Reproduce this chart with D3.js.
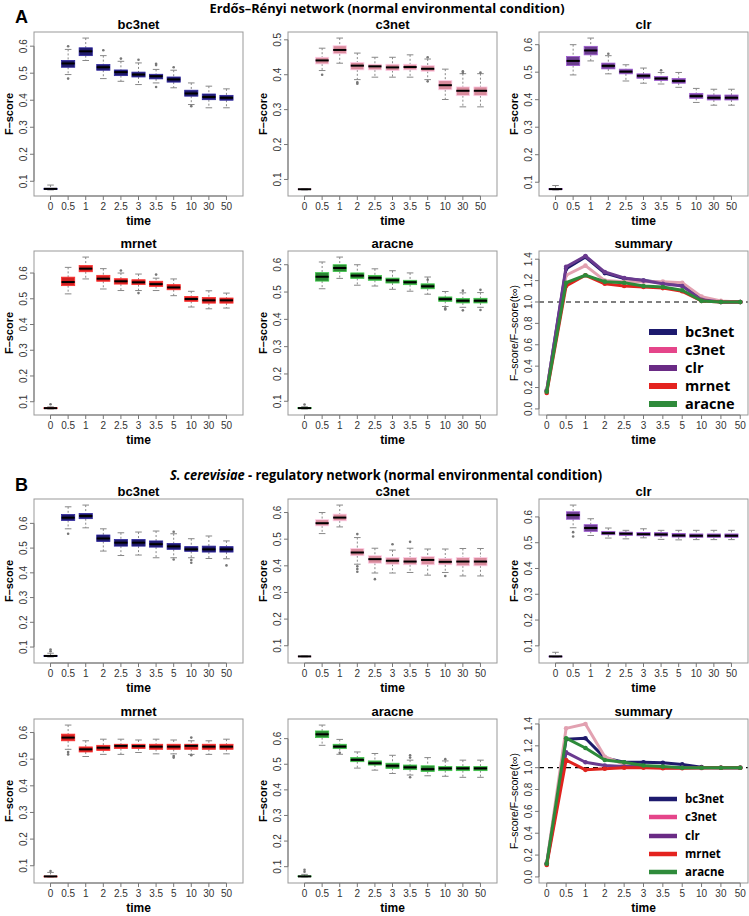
<!DOCTYPE html>
<html><head><meta charset="utf-8">
<script src="https://cdn.jsdelivr.net/npm/d3@7"></script>
<style>body{margin:0;background:#fff} svg text{font-family:"Liberation Sans",Arial,Helvetica,sans-serif}</style>
</head><body><svg id="c" width="749" height="916"></svg>
<script>
const times = ["0","0.5","1","2","2.5","3","3.5","5","10","30","50"];
const methods = ["bc3net","c3net","clr","mrnet","aracne"];
const boxFill = ["#1f1a6b","#d98b9c","#6b3d8e","#d42020","#2a8632"];
const lineColor = ["#1f1a6b","#e2a1b1","#6a3a8f","#e0231e","#2d8a3a"];
const legendColor = ["#1d1a6e","#e5458a","#6a2b85","#e4231f","#2f8b3b"];
const yTicksBox = [0.1,0.2,0.3,0.4,0.5,0.6];
const yTicksSummary = [0,0.2,0.4,0.6,0.8,1.0,1.2,1.4];

// A: Erdős–Rényi network — box statistics per time point
const erBc3net = {
  lo:  [0.068,0.495,0.547,0.480,0.470,0.458,0.464,0.446,0.384,0.372,0.372],
  q1:  [0.070,0.522,0.565,0.511,0.491,0.486,0.479,0.467,0.415,0.402,0.400],
  med: [0.072,0.536,0.581,0.522,0.504,0.495,0.489,0.477,0.425,0.412,0.409],
  q3:  [0.074,0.547,0.594,0.532,0.512,0.504,0.496,0.486,0.437,0.423,0.418],
  hi:  [0.086,0.588,0.630,0.565,0.544,0.538,0.514,0.511,0.464,0.452,0.442],
  out: [[1,0.600],[1,0.480],[3,0.585],[4,0.554],[5,0.550],[6,0.535],[6,0.530],[6,0.449],[7,0.522],[8,0.378]]
};
const erC3net = {
  lo:  [0.070,0.412,0.433,0.386,0.393,0.393,0.393,0.386,0.329,0.308,0.308],
  q1:  [0.071,0.431,0.460,0.414,0.414,0.412,0.414,0.410,0.357,0.340,0.340],
  med: [0.072,0.441,0.471,0.426,0.424,0.421,0.422,0.417,0.370,0.354,0.354],
  q3:  [0.073,0.450,0.483,0.435,0.430,0.430,0.430,0.426,0.383,0.365,0.365],
  hi:  [0.074,0.476,0.505,0.462,0.450,0.450,0.457,0.445,0.416,0.403,0.403],
  out: [[1,0.400],[3,0.378],[3,0.374],[7,0.450],[7,0.381],[9,0.410],[9,0.405],[10,0.406]]
};
const erClr = {
  lo:  [0.072,0.490,0.541,0.494,0.468,0.460,0.457,0.445,0.390,0.380,0.380],
  q1:  [0.073,0.524,0.563,0.512,0.494,0.478,0.470,0.460,0.405,0.399,0.399],
  med: [0.075,0.541,0.579,0.523,0.502,0.487,0.477,0.468,0.413,0.407,0.407],
  q3:  [0.077,0.557,0.594,0.533,0.511,0.494,0.484,0.477,0.423,0.417,0.417],
  hi:  [0.088,0.600,0.624,0.560,0.527,0.515,0.499,0.499,0.441,0.438,0.438],
  out: [[3,0.567],[6,0.507]]
};
const erMrnet = {
  lo:  [0.072,0.519,0.577,0.538,0.532,0.532,0.532,0.512,0.468,0.461,0.464],
  q1:  [0.073,0.551,0.605,0.568,0.557,0.555,0.548,0.535,0.490,0.483,0.483],
  med: [0.075,0.565,0.617,0.578,0.568,0.564,0.557,0.544,0.499,0.494,0.494],
  q3:  [0.077,0.584,0.629,0.591,0.578,0.574,0.568,0.555,0.509,0.505,0.503],
  hi:  [0.080,0.622,0.662,0.617,0.600,0.596,0.580,0.577,0.529,0.531,0.522],
  out: [[0,0.090],[4,0.610],[5,0.522],[6,0.594]]
};
const erAracne = {
  lo:  [0.072,0.512,0.550,0.525,0.522,0.510,0.503,0.492,0.447,0.444,0.444],
  q1:  [0.073,0.540,0.575,0.550,0.543,0.533,0.527,0.512,0.466,0.460,0.460],
  med: [0.075,0.556,0.588,0.560,0.552,0.543,0.536,0.521,0.474,0.468,0.468],
  q3:  [0.077,0.571,0.600,0.570,0.561,0.551,0.543,0.530,0.482,0.476,0.477],
  hi:  [0.080,0.610,0.628,0.600,0.585,0.578,0.570,0.555,0.502,0.497,0.498],
  out: [[0,0.088],[7,0.545],[8,0.440],[8,0.436],[9,0.433],[9,0.505],[10,0.434],[10,0.508]]
};
// B: S. cerevisiae regulatory network
const scBc3net = {
  lo:  [0.060,0.578,0.582,0.488,0.470,0.472,0.461,0.461,0.461,0.458,0.457],
  q1:  [0.062,0.612,0.619,0.527,0.508,0.508,0.504,0.495,0.487,0.484,0.484],
  med: [0.064,0.623,0.630,0.539,0.522,0.522,0.516,0.507,0.495,0.495,0.495],
  q3:  [0.066,0.636,0.640,0.553,0.535,0.535,0.529,0.519,0.506,0.508,0.506],
  hi:  [0.075,0.667,0.674,0.578,0.562,0.565,0.569,0.558,0.538,0.549,0.529],
  out: [[0,0.083],[0,0.090],[1,0.558],[7,0.566],[7,0.454],[8,0.452],[8,0.441],[10,0.430]]
};
const scC3net = {
  lo:  [0.058,0.521,0.546,0.406,0.373,0.373,0.375,0.365,0.375,0.362,0.362],
  q1:  [0.059,0.550,0.569,0.438,0.410,0.406,0.404,0.404,0.404,0.400,0.400],
  med: [0.060,0.560,0.581,0.450,0.425,0.419,0.416,0.422,0.415,0.416,0.416],
  q3:  [0.061,0.573,0.594,0.465,0.438,0.431,0.431,0.435,0.428,0.431,0.431],
  hi:  [0.062,0.600,0.628,0.506,0.466,0.459,0.466,0.463,0.463,0.465,0.465],
  out: [[3,0.519],[3,0.398],[3,0.388],[3,0.378],[4,0.350],[5,0.481],[6,0.490],[8,0.362]]
};
const scClr = {
  lo:  [0.057,0.558,0.528,0.518,0.515,0.519,0.513,0.511,0.512,0.512,0.512],
  q1:  [0.058,0.591,0.544,0.531,0.528,0.527,0.526,0.522,0.521,0.521,0.521],
  med: [0.059,0.607,0.557,0.537,0.535,0.533,0.532,0.528,0.527,0.527,0.527],
  q3:  [0.060,0.620,0.570,0.544,0.541,0.540,0.539,0.536,0.534,0.534,0.534],
  hi:  [0.075,0.646,0.593,0.557,0.548,0.554,0.548,0.548,0.548,0.548,0.548],
  out: [[1,0.541],[1,0.524]]
};
const scMrnet = {
  lo:  [0.058,0.537,0.510,0.518,0.518,0.525,0.520,0.520,0.518,0.518,0.520],
  q1:  [0.059,0.569,0.527,0.533,0.540,0.540,0.537,0.537,0.537,0.537,0.537],
  med: [0.060,0.581,0.537,0.543,0.550,0.549,0.547,0.547,0.550,0.547,0.547],
  q3:  [0.061,0.594,0.546,0.552,0.556,0.556,0.556,0.556,0.556,0.556,0.556],
  hi:  [0.075,0.628,0.569,0.575,0.575,0.572,0.575,0.572,0.569,0.569,0.575],
  out: [[0,0.080],[1,0.527],[1,0.518],[7,0.512],[7,0.506],[8,0.581],[8,0.515]]
};
const scAracne = {
  lo:  [0.060,0.574,0.539,0.485,0.477,0.464,0.458,0.455,0.453,0.449,0.449],
  q1:  [0.061,0.604,0.561,0.510,0.497,0.484,0.479,0.472,0.475,0.475,0.475],
  med: [0.062,0.617,0.569,0.517,0.504,0.494,0.488,0.481,0.484,0.484,0.484],
  q3:  [0.064,0.630,0.578,0.526,0.513,0.504,0.497,0.494,0.491,0.491,0.491],
  hi:  [0.070,0.653,0.597,0.548,0.542,0.535,0.516,0.526,0.513,0.516,0.516],
  out: [[0,0.080],[0,0.088],[2,0.545],[6,0.535],[6,0.526],[6,0.449],[8,0.520]]
};

// Summary: F-score / F-score(t∞) of medians
const erSumBc3net = [0.17,1.31,1.42,1.27,1.22,1.20,1.18,1.16,1.03,1.00,1.00];
const erSumC3net  = [0.18,1.25,1.34,1.20,1.19,1.19,1.19,1.18,1.05,1.01,1.00];
const erSumClr    = [0.17,1.33,1.43,1.28,1.225,1.20,1.17,1.15,1.02,1.00,1.00];
const erSumMrnet  = [0.15,1.15,1.25,1.17,1.15,1.14,1.13,1.10,1.01,1.00,1.00];
const erSumAracne = [0.16,1.18,1.25,1.19,1.18,1.15,1.14,1.11,1.01,1.00,1.00];
const scSumBc3net = [0.12,1.26,1.27,1.09,1.05,1.05,1.045,1.03,1.005,1.00,1.00];
const scSumC3net  = [0.13,1.36,1.40,1.10,1.03,1.01,1.00,1.00,0.995,1.00,1.00];
const scSumClr    = [0.12,1.14,1.05,1.02,1.01,1.01,1.00,1.00,1.00,1.00,1.00];
const scSumMrnet  = [0.11,1.07,0.98,0.99,1.00,1.00,0.995,0.995,1.00,1.00,1.00];
const scSumAracne = [0.12,1.27,1.18,1.07,1.05,1.02,1.01,1.00,1.00,1.00,1.00];
const erSumRange = [0,1.42];
const scSumRange = [0,1.39];

const svg = d3.select("#c");
const cols = [34, 288, 539];
const rows = [32, 251, 499, 719];
const PW = 209, PH = 164;
const tickGrey = "#777", labGrey = "#333";

function pad(lo, hi){ const p=(hi-lo)*0.04; return [lo-p, hi+p]; }

function frame(g, x, y, fmt, yt, xlab, ylab, title, rect){
  const [L,T] = rect;
  g.append("rect").attr("x",L).attr("y",T).attr("width",PW).attr("height",PH)
    .attr("fill","none").attr("stroke","#999").attr("stroke-width",1);
  const xt = d3.range(times.length);
  const xv = xt.map(i=>x(i+1));
  g.append("line").attr("x1",xv[0]).attr("x2",xv[xv.length-1]).attr("y1",T+PH).attr("y2",T+PH).attr("stroke",tickGrey);
  xt.forEach(i=>{
    g.append("line").attr("x1",x(i+1)).attr("x2",x(i+1)).attr("y1",T+PH).attr("y2",T+PH+4).attr("stroke",tickGrey);
    g.append("text").attr("x",x(i+1)).attr("y",T+PH+14).attr("text-anchor","middle")
      .attr("font-size",10).attr("fill",labGrey).text(times[i]);
  });
  g.append("text").attr("x",L+PW/2).attr("y",T+PH+29).attr("text-anchor","middle")
    .attr("font-size",12).attr("font-weight","bold").text(xlab);
  const ticks = yt.filter(v=>v>=y.domain()[0]&&v<=y.domain()[1]);
  g.append("line").attr("x1",L).attr("x2",L).attr("y1",y(ticks[0])).attr("y2",y(ticks[ticks.length-1])).attr("stroke",tickGrey);
  ticks.forEach(v=>{
    g.append("line").attr("x1",L-4).attr("x2",L).attr("y1",y(v)).attr("y2",y(v)).attr("stroke",tickGrey);
    g.append("text").attr("transform",`translate(${L-7},${y(v)}) rotate(-90)`).attr("text-anchor","middle")
      .attr("font-size",10).attr("fill",labGrey).text(fmt(v));
  });
  g.append("text").attr("transform",`translate(${L-21},${T+PH/2}) rotate(-90)`).attr("text-anchor","middle")
    .attr("font-size",ylab.bold?11:10.5).attr("font-weight",ylab.bold?"bold":"normal").text(ylab.text);
  g.append("text").attr("x",L+PW/2).attr("y",T-3).attr("text-anchor","middle")
    .attr("font-size",13).attr("font-weight","bold").text(title);
}

function boxPanel(d, mi, rect){
  const [L,T] = rect;
  const g = svg.append("g");
  const all = d.lo.concat(d.hi, d.out.map(o=>o[1]));
  const y = d3.scaleLinear().domain(pad(d3.min(all), d3.max(all))).range([T+PH, T]);
  const x = d3.scaleLinear().domain(pad(0.5, times.length+0.5)).range([L, L+PW]);
  const hw = (x(1.375)-x(1));
  const fill = boxFill[mi];
  const edge = d3.color(fill).brighter(1.1).formatHex();
  times.forEach((t,i)=>{
    const cx = x(i+1);
    g.append("line").attr("x1",cx).attr("x2",cx).attr("y1",y(d.hi[i])).attr("y2",y(d.q3[i]))
      .attr("stroke","#888").attr("stroke-dasharray","2,2");
    g.append("line").attr("x1",cx).attr("x2",cx).attr("y1",y(d.q1[i])).attr("y2",y(d.lo[i]))
      .attr("stroke","#888").attr("stroke-dasharray","2,2");
    [d.hi[i], d.lo[i]].forEach(v=>g.append("line").attr("x1",cx-hw/2).attr("x2",cx+hw/2)
      .attr("y1",y(v)).attr("y2",y(v)).attr("stroke","#888"));
    g.append("rect").attr("x",cx-hw).attr("width",2*hw).attr("y",y(d.q3[i]))
      .attr("height",Math.max(0.8,y(d.q1[i])-y(d.q3[i]))).attr("fill",fill).attr("stroke",edge).attr("stroke-width",0.8);
    g.append("line").attr("x1",cx-hw).attr("x2",cx+hw).attr("y1",y(d.med[i])).attr("y2",y(d.med[i]))
      .attr("stroke","#000").attr("stroke-width",2);
  });
  d.out.forEach(([i,v])=>g.append("circle").attr("cx",x(i+1)).attr("cy",y(v)).attr("r",1.3).attr("fill","#777"));
  frame(g, x, y, d3.format(".1f"), yTicksBox, "time", {text:"F–score", bold:true}, methods[mi], rect);
}

function summaryPanel(series, range, rect, big, legendY){
  const [L,T] = rect;
  const g = svg.append("g");
  const y = d3.scaleLinear().domain(pad(range[0], range[1])).range([T+PH, T]);
  const x = d3.scaleLinear().domain(pad(1, times.length)).range([L, L+PW]);
  g.append("line").attr("x1",L).attr("x2",L+PW).attr("y1",y(1)).attr("y2",y(1))
    .attr("stroke","#000").attr("stroke-width",1.2).attr("stroke-dasharray","5,4");
  const line = d3.line().x((v,i)=>x(i+1)).y(v=>y(v));
  series.forEach((s,mi)=>{
    g.append("path").attr("d",line(s)).attr("fill","none").attr("stroke",lineColor[mi])
      .attr("stroke-width",3).attr("stroke-linejoin","round");
    s.forEach((v,i)=>g.append("circle").attr("cx",x(i+1)).attr("cy",y(v)).attr("r",2.3).attr("fill",lineColor[mi]));
  });
  frame(g, x, y, d3.format(".1f"), yTicksSummary, "time", {text:"F–score/F–score(t∞)", bold:false}, "summary", rect);
  methods.forEach((m,mi)=>{
    const yy = legendY[mi];
    g.append("line").attr("x1",L+110).attr("x2",L+138).attr("y1",yy).attr("y2",yy)
      .attr("stroke",legendColor[mi]).attr("stroke-width",big?6:4.5);
    g.append("text").attr("x",L+146).attr("y",yy+(big?5:4)).attr("font-size",big?14.5:11.5)
      .attr("font-weight","bold").style("font-family","'Open Sans',sans-serif").text(m);
  });
}

const erPanels = [erBc3net, erC3net, erClr, erMrnet, erAracne];
const scPanels = [scBc3net, scC3net, scClr, scMrnet, scAracne];
[erPanels, scPanels].forEach((ps, k)=>{
  ps.forEach((d,mi)=>{
    const r = rows[k*2 + (mi<3?0:1)];
    const c = cols[mi%3];
    boxPanel(d, mi, [c, r]);
  });
});
summaryPanel([erSumBc3net,erSumC3net,erSumClr,erSumMrnet,erSumAracne], erSumRange, [cols[2], rows[1]], true, [332,350,368,386,404]);
summaryPanel([scSumBc3net,scSumC3net,scSumClr,scSumMrnet,scSumAracne], scSumRange, [cols[2], rows[3]], false, [799,817,836,854,872]);

svg.append("text").attr("x",15).attr("y",23).attr("font-size",18).attr("font-weight","bold").text("A");
svg.append("text").attr("x",15).attr("y",491).attr("font-size",18).attr("font-weight","bold").text("B");
svg.append("text").attr("x",387).attr("y",12.5).attr("text-anchor","middle").attr("font-size",12.5)
  .attr("font-weight","bold").style("font-family","'Open Sans',sans-serif")
  .attr("textLength",355).attr("lengthAdjust","spacingAndGlyphs")
  .text("Erdős–Rényi network (normal environmental condition)");
const tb = svg.append("text").attr("x",386).attr("y",480).attr("text-anchor","middle").attr("font-size",14)
  .attr("font-weight","bold").style("font-family","'Open Sans',sans-serif")
  .attr("textLength",432).attr("lengthAdjust","spacingAndGlyphs");
tb.append("tspan").attr("font-style","italic").text("S. cerevisiae");
tb.append("tspan").text(" - regulatory network (normal environmental condition)");
</script></body></html>
